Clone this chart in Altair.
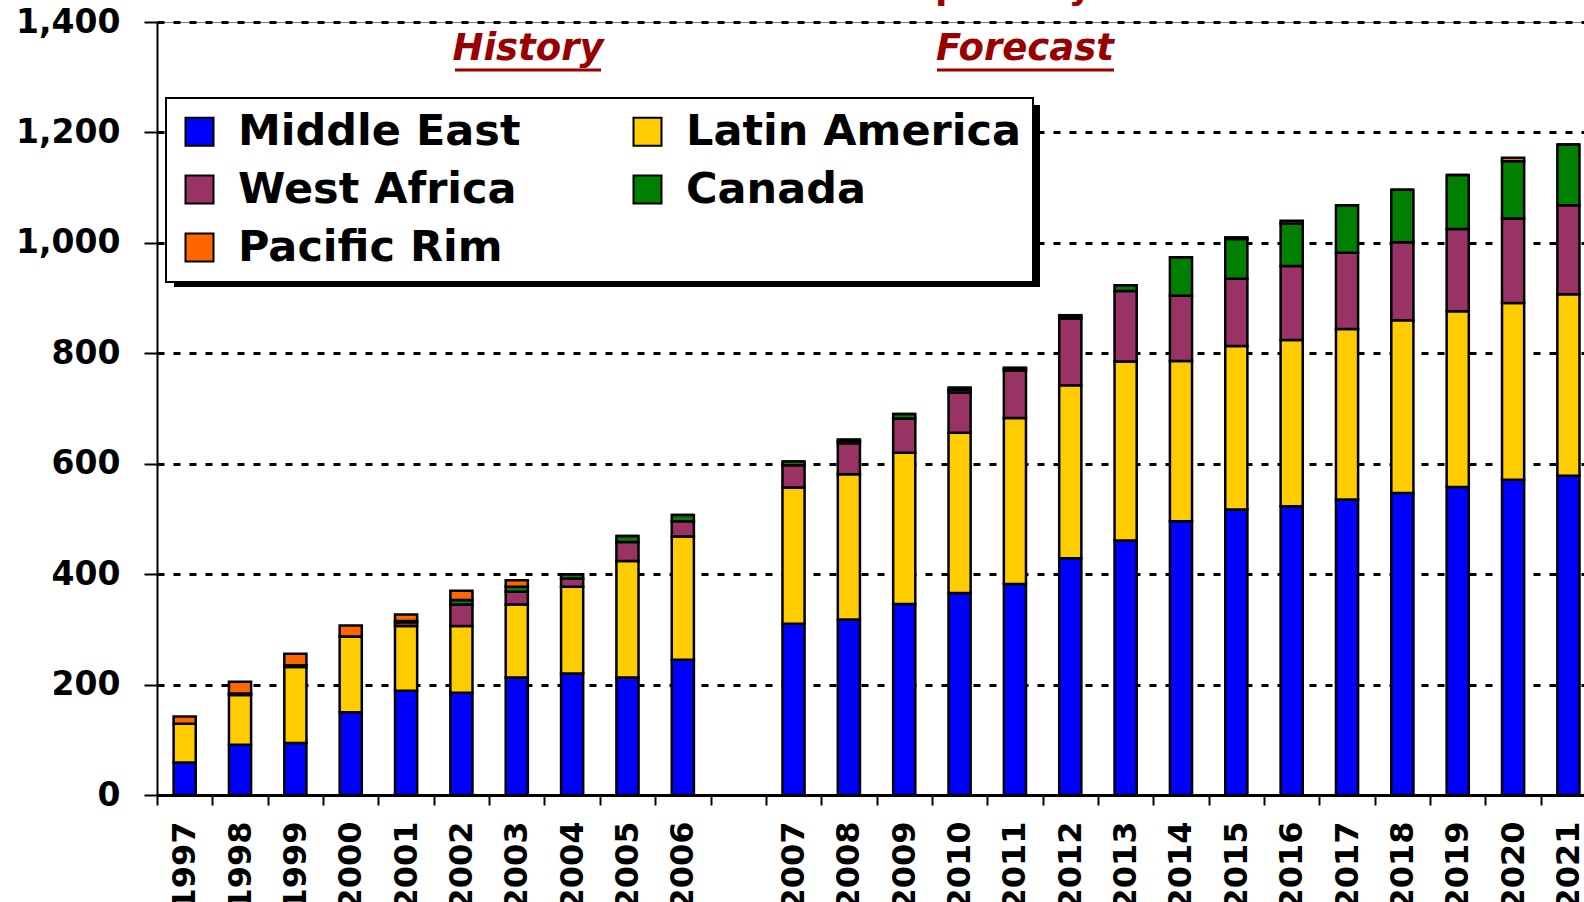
import altair as alt
import pandas as pd

# ---------------- data ----------------
years = ["1997", "1998", "1999", "2000", "2001", "2002", "2003", "2004", "2005", "2006",
         "2007", "2008", "2009", "2010", "2011", "2012", "2013", "2014", "2015", "2016",
         "2017", "2018", "2019", "2020", "2021"]
gap_label = " "

# stacking order, bottom to top
regions = ["Middle East", "Latin America", "West Africa", "Canada", "Pacific Rim"]
colors = ["#0000FF", "#FFCC00", "#993366", "#008000", "#FF6600"]

middle_east = [59, 91, 94, 150, 189, 185, 213, 220, 213, 245,
               310, 318, 346, 366, 382, 429, 461, 496, 517, 523, 535, 547, 558, 571, 578]
latin_america = [70, 90, 138, 137, 117, 121, 132, 157, 211, 223,
                 247, 263, 274, 290, 301, 313, 324, 290, 296, 301, 309, 313, 318, 320, 329]
west_africa = [0, 3, 3, 0, 7, 39, 23, 15, 34, 28,
               40, 56, 62, 73, 86, 121, 128, 118, 122, 134, 138, 141, 149, 153, 161]
canada = [0, 0, 0, 0, 2, 8, 9, 8, 11, 11,
          7, 4, 8, 5, 3, 3, 10, 70, 72, 77, 86, 95, 98, 104, 110]
pacific_rim = [13, 21, 21, 20, 12, 17, 12, 0, 0, 0,
               0, 3, 0, 4, 2, 3, 0, 0, 3, 5, 0, 0, 0, 6, 0]

y_ticks = [0, 200, 400, 600, 800, 1000, 1200, 1400]
period_labels = ["History", "Forecast"]
title_text = ["Thousand Barrels per Day"]

# ---------------- tables ----------------
series = [middle_east, latin_america, west_africa, canada, pacific_rim]
rows = []
for i, yr in enumerate(years):
    for k, name in enumerate(regions):
        rows.append({"Year": yr, "Region": name, "Value": series[k][i], "Order": k})
df = pd.DataFrame(rows)

# legend is filled column by column: put entries so rows read like the reference
legend_order = [0, 2, 4, 1, 3]
legend_domain = [regions[i] for i in legend_order]
legend_range = [colors[i] for i in legend_order]

x_domain = years[:10] + [gap_label] + years[10:]

FONT = "DejaVu Sans"
DARKRED = "#990000"

W, H = 1427, 773
STEP = 55.35
x_range = [0, STEP * len(x_domain)]

bars = alt.Chart(df).mark_bar(stroke="black", strokeWidth=2.5).encode(
    x=alt.X("Year:N",
            scale=alt.Scale(domain=x_domain, range=x_range, paddingInner=0.6, paddingOuter=0.3),
            axis=alt.Axis(title=None, labelAngle=-90, labelFont=FONT, labelFontSize=32,
                          labelFontWeight="bold", labelColor="black", labelPadding=16,
                          tickOffset=-STEP / 2, labelOffset=STEP / 2, tickSize=10,
                          tickWidth=2, tickColor="black", domainColor="black",
                          domainWidth=3, grid=False, labelOverlap=False)),
    y=alt.Y("Value:Q", stack="zero",
            scale=alt.Scale(domain=[0, 1400], nice=False),
            axis=alt.Axis(title=None, values=y_ticks, format=",d", grid=True,
                          gridDash=[7, 9], gridColor="black", gridWidth=3,
                          labelFont=FONT, labelFontSize=33, labelFontWeight="bold",
                          labelColor="black", labelPadding=24, tickSize=13,
                          tickWidth=2, tickColor="black", domainColor="black",
                          domainWidth=2)),
    color=alt.Color("Region:N",
                    scale=alt.Scale(domain=legend_domain, range=legend_range),
                    legend=alt.Legend(title=None, orient="none", legendX=9, legendY=76,
                                      columns=2, symbolType="square", symbolSize=784,
                                      symbolStrokeColor="black", symbolStrokeWidth=2,
                                      labelFont=FONT, labelFontSize=43,
                                      labelFontWeight="bold", labelColor="black",
                                      labelLimit=800, labelOffset=17, rowPadding=14,
                                      columnPadding=105, padding=12,
                                      fillColor="white", strokeColor="black")),
    order=alt.Order("Order:Q", sort="ascending"),
)

dummy = pd.DataFrame({"d": [0]})
shadow = alt.Chart(dummy).mark_rect(color="black").encode(
    x=alt.value(17), x2=alt.value(883), y=alt.value(83), y2=alt.value(265)
)

ann = pd.DataFrame({"label": period_labels, "px": [371, 868]})
period_text = alt.Chart(ann).mark_text(
    font=FONT, fontSize=37, fontWeight="bold", fontStyle="italic",
    color=DARKRED, align="center", baseline="alphabetic"
).encode(text="label:N", x=alt.X("px:Q", scale=None), y=alt.value(38))

underline_h = alt.Chart(dummy).mark_rule(color=DARKRED, strokeWidth=3).encode(
    x=alt.value(298), x2=alt.value(444), y=alt.value(48))
underline_f = alt.Chart(dummy).mark_rule(color=DARKRED, strokeWidth=3).encode(
    x=alt.value(780), x2=alt.value(957), y=alt.value(48))

title_df = pd.DataFrame({"t": title_text})
title = alt.Chart(title_df).mark_text(
    font=FONT, fontSize=36, fontWeight="bold", color="#A00000",
    align="right", baseline="alphabetic"
).encode(text="t:N", x=alt.value(935), y=alt.value(-23))

chart = alt.layer(shadow, bars, period_text, underline_h, underline_f, title).properties(
    width=W, height=H,
    autosize=alt.AutoSizeParams(type="none"),
    padding={"left": 157, "top": 22, "right": 0, "bottom": 107},
    background="white",
).configure_view(stroke="#808080", strokeWidth=1).configure_legend(strokeWidth=2)

chart.save("out.html", embed_options={"renderer": "svg", "actions": False})
